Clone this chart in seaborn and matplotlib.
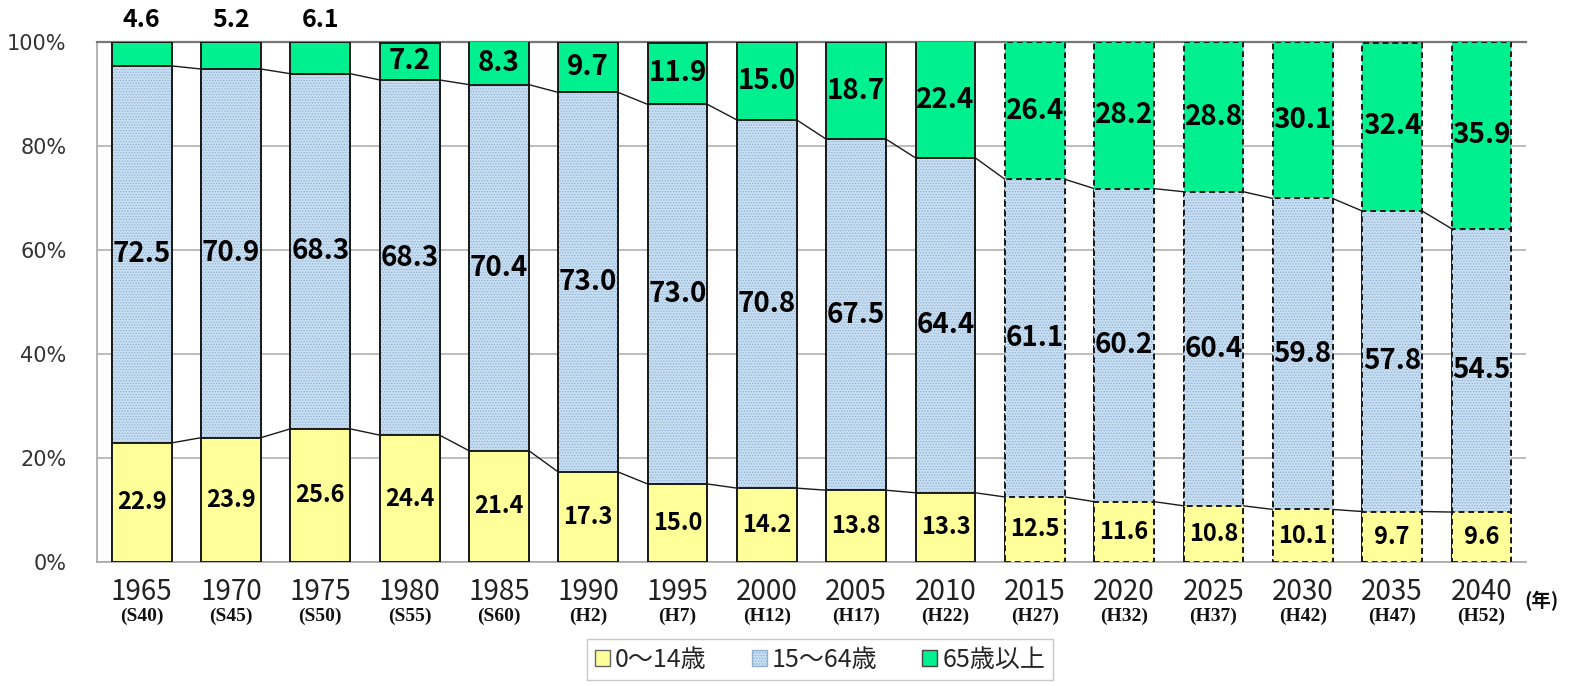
import matplotlib
matplotlib.use("Agg")
import matplotlib.pyplot as plt
from matplotlib.patches import Patch
import seaborn as sns
import numpy as np

years = ["1965", "1970", "1975", "1980", "1985", "1990", "1995", "2000",
         "2005", "2010", "2015", "2020", "2025", "2030", "2035", "2040"]
eras = ["(S40)", "(S45)", "(S50)", "(S55)", "(S60)", "(H2)", "(H7)", "(H12)",
        "(H17)", "(H22)", "(H27)", "(H32)", "(H37)", "(H42)", "(H47)", "(H52)"]
age_0_14 = [22.9, 23.9, 25.6, 24.4, 21.4, 17.3, 15.0, 14.2, 13.8, 13.3,
            12.5, 11.6, 10.8, 10.1, 9.7, 9.6]
age_15_64 = [72.5, 70.9, 68.3, 68.3, 70.4, 73.0, 73.0, 70.8, 67.5, 64.4,
             61.1, 60.2, 60.4, 59.8, 57.8, 54.5]
age_65 = [4.6, 5.2, 6.1, 7.2, 8.3, 9.7, 11.9, 15.0, 18.7, 22.4,
          26.4, 28.2, 28.8, 30.1, 32.4, 35.9]
labels = ["0～14歳", "15～64歳", "65歳以上"]
first_projection = 10   # 2015 onward drawn with dashed outlines

yellow = "#ffff99"
blue = "#c8dff3"
dots = "#8fb0cf"
green = "#00ef8f"
edge = "#1a1a1a"

sns.set_theme(style="white")
plt.rcParams["font.family"] = ["Noto Sans CJK JP", "DejaVu Sans"]
plt.rcParams["hatch.linewidth"] = 0.6

low = np.array(age_0_14)
mid = low + np.array(age_15_64)
top = mid + np.array(age_65)

fig = plt.figure(figsize=(15.74, 6.86), dpi=100)
ax = fig.add_axes([0.0616, 0.1808, 0.908, 0.758])

W = 0.67
n0 = len(ax.patches)
sns.barplot(x=years, y=top, color=green, saturation=1, width=W,
            edgecolor=edge, linewidth=1.4, ax=ax, zorder=3)
sns.barplot(x=years, y=mid, color=blue, saturation=1, width=W,
            edgecolor=dots, linewidth=0, hatch="......", ax=ax, zorder=3)
sns.barplot(x=years, y=mid, color=edge, fill=False, width=W,
            linewidth=1.4, ax=ax, zorder=3)
sns.barplot(x=years, y=low, color=yellow, saturation=1, width=W,
            edgecolor=edge, linewidth=1.4, ax=ax, zorder=3)

for k, p in enumerate(ax.patches[n0:]):
    i = k % len(years)
    if i >= first_projection and p.get_linewidth() > 0:
        p.set_linestyle((0, (3, 2)))

# connector lines between neighbouring bars
for level in (low, mid):
    for i in range(len(years) - 1):
        ax.plot([i + W / 2, i + 1 - W / 2], [level[i], level[i + 1]],
                color=edge, lw=1.0, zorder=2)

# value labels
for i in range(len(years)):
    ax.text(i, low[i] / 2, f"{age_0_14[i]:.1f}", ha="center", va="center",
            fontsize=17, fontweight="bold", color="black", zorder=5)
    ax.text(i, (low[i] + mid[i]) / 2, f"{age_15_64[i]:.1f}", ha="center",
            va="center", fontsize=20, fontweight="bold", color="black", zorder=5)
    if age_65[i] < 7:
        ax.text(i, 104.3, f"{age_65[i]:.1f}", ha="center", va="center",
                fontsize=18, fontweight="bold", color="black", clip_on=False)
    else:
        ax.text(i, (mid[i] + 100) / 2, f"{age_65[i]:.1f}", ha="center",
                va="center", fontsize=20, fontweight="bold", color="black",
                zorder=5)

ax.set_xlim(-0.5, len(years) - 0.5)
ax.set_ylim(0, 100)
ax.set_yticks([0, 20, 40, 60, 80, 100])
ax.set_yticklabels(["0%", "20%", "40%", "60%", "80%", "100%"],
                   fontsize=15, color="#333333", family="DejaVu Sans")
ax.yaxis.grid(True, color="#b0b0b0", lw=1.2)
ax.set_axisbelow(True)
ax.tick_params(axis="y", length=0, pad=22)
ax.tick_params(axis="x", which="major", length=0, pad=11, labelsize=20,
               labelcolor="#222222")
ax.set_xticks(np.arange(len(years) - 1) + 0.5, minor=True)
ax.tick_params(axis="x", which="minor", direction="in", length=7,
               color="#999999", width=1.2)
ax.set_xlabel("")
ax.set_ylabel("")
ax.spines["right"].set_visible(False)
ax.spines["top"].set_color("#777777")
ax.spines["top"].set_linewidth(1.6)
ax.spines["left"].set_color("#aaaaaa")
ax.spines["bottom"].set_color("#aaaaaa")

for i, e in enumerate(eras):
    ax.text(i, -0.105, e, transform=ax.get_xaxis_transform(), ha="center",
            va="center", fontsize=14, fontweight="bold",
            family="Liberation Serif", color="#111111")
ax.text(0.999, -0.075, "(年)", transform=ax.transAxes, ha="left",
        va="center", fontsize=14, fontweight="bold", color="#111111")

handles = [Patch(facecolor=yellow, edgecolor="#666666"),
           Patch(facecolor=blue, edgecolor=dots, hatch="......"),
           Patch(facecolor=green, edgecolor="#444444")]
fig.legend(handles, labels, loc="upper center", bbox_to_anchor=(0.521, 0.068),
           ncol=3, fontsize=18, frameon=True, edgecolor="#bbbbbb",
           fancybox=False, handlelength=0.6, handleheight=0.6,
           handletextpad=0.2, columnspacing=1.8, borderpad=0.3,
           borderaxespad=0)

fig.savefig("out.png", dpi=100)
